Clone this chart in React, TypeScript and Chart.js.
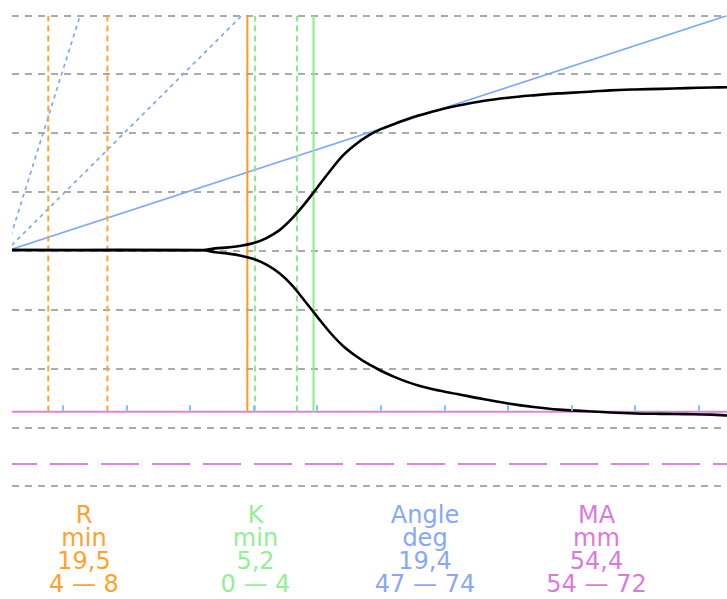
import React, { useEffect, useRef } from "react";
import { Chart, registerables } from "chart.js";

Chart.register(...registerables);

// ---- data (minutes / millimetres) ----
const TIME_MIN = [1, 16, 17, 18, 19, 20, 21, 22, 23, 24, 25, 26, 27, 28, 29, 30, 31, 32, 33, 34, 35, 36, 38, 40, 42, 44, 46, 48, 50, 52, 54, 56, 57.2];
const UPPER_MM = [0.17, 0.17, 0.45, 0.62, 0.88, 1.35, 2.2, 3.5, 5.5, 8.0, 10.8, 13.6, 16.2, 18.1, 19.6, 20.7, 21.55, 22.35, 23.05, 23.65, 24.2, 24.67, 25.49, 26.05, 26.45, 26.78, 27.02, 27.3, 27.45, 27.55, 27.68, 27.77, 27.82];
const LOWER_MM = [0.17, 0.12, -0.22, -0.45, -0.8, -1.36, -2.3, -3.75, -5.8, -8.45, -11.2, -13.85, -16.1, -17.8, -19.2, -20.35, -21.35, -22.2, -22.9, -23.45, -23.9, -24.3, -25.15, -25.9, -26.5, -26.95, -27.2, -27.44, -27.6, -27.67, -27.72, -27.8, -27.95];

const X_MIN = 1;
const X_MAX = 57.2;
const Y_MIN = -40;
const Y_MAX = 40;
const Y_STEP = 10;

const ANGLE_ORIGIN = { x: 0.53, y: 0 };
const ANGLE_END = { x: 57.2, y: 40 };
const ANGLE_NORMAL_ENDS = [{ x: 6.35, y: 40 }, { x: 19.06, y: 40 }];

const R_VALUE = 19.5;
const R_RANGE = [3.85, 8.5];
const RK_VALUE = 24.7;
const K_RANGE = [20.1, 23.4];

const MA_LINE_MM = -27.3;
const MA_DASH_MM = -36.2;
const TICK_MINUTES = [5, 10, 15, 20, 25, 30, 35, 40, 45, 50, 55];

const PARAM_NAMES = ["R", "K", "Angle", "MA"];
const PARAM_UNITS = ["min", "min", "deg", "mm"];
const PARAM_VALUES = ["19,5", "5,2", "19,4", "54,4"];
const PARAM_RANGES = ["4 — 8", "0 — 4", "47 — 74", "54 — 72"];
const PARAM_COLORS = ["#ffa22e", "#94ee94", "#86a8f6", "#dc7adc"];
const PARAM_CENTERS = [84, 255.5, 425, 596.5];

const ORANGE = "#ff9a1a";
const ORANGE_D = "#ffa630";
const GREEN = "#86ef86";
const BLUE = "#7ea8fb";
const PURPLE = "#dc82e2";
const TICK_BLUE = "#7cc6f2";

function vline(t: number, color: string, dash: number[], order: number) {
  return {
    data: [{ x: t, y: Y_MAX }, { x: t, y: MA_LINE_MM }],
    borderColor: color,
    borderWidth: 2,
    borderDash: dash,
    showLine: true,
    pointRadius: 0,
    tension: 0,
    order,
  };
}

function hline(v: number, color: string, dash: number[], order: number) {
  return {
    data: [{ x: X_MIN, y: v }, { x: X_MAX, y: v }],
    borderColor: color,
    borderWidth: 2,
    borderDash: dash,
    borderDashOffset: 13,
    showLine: true,
    pointRadius: 0,
    tension: 0,
    order,
  };
}

const tickPlugin = {
  id: "maTicks",
  afterDatasetsDraw(chart: any) {
    const { ctx, scales } = chart;
    const x = scales.x;
    const y = scales.y;
    const y0 = y.getPixelForValue(MA_LINE_MM);
    ctx.save();
    ctx.strokeStyle = TICK_BLUE;
    ctx.lineWidth = 2;
    for (const t of TICK_MINUTES) {
      const px = Math.round(x.getPixelForValue(t));
      ctx.beginPath();
      ctx.moveTo(px, y0 - 1);
      ctx.lineTo(px, y0 - 6.5);
      ctx.stroke();
    }
    ctx.restore();
  },
};

export default function App() {
  const ref = useRef<HTMLCanvasElement | null>(null);

  useEffect(() => {
    if (!ref.current) return;
    const upper = TIME_MIN.map((t, i) => ({ x: t, y: UPPER_MM[i] }));
    const lower = TIME_MIN.map((t, i) => ({ x: t, y: LOWER_MM[i] }));
    const curve = (data: any) => ({
      data,
      borderColor: "#000",
      borderWidth: 2.6,
      showLine: true,
      pointRadius: 0,
      tension: 0.35,
      order: 0,
    });
    const chart = new Chart(ref.current, {
      type: "scatter",
      data: {
        datasets: [
          curve(upper),
          curve(lower),
          {
            data: [ANGLE_ORIGIN, ANGLE_END],
            borderColor: BLUE,
            borderWidth: 1.6,
            showLine: true,
            pointRadius: 0,
            tension: 0,
            order: 3,
          },
          ...ANGLE_NORMAL_ENDS.map((e) => ({
            data: [ANGLE_ORIGIN, e],
            borderColor: BLUE,
            borderWidth: 1.7,
            borderDash: [4, 4],
            showLine: true,
            pointRadius: 0,
            tension: 0,
            order: 3,
          })),
          ...R_RANGE.map((t) => vline(t, ORANGE_D, [6, 4], 2)),
          vline(R_VALUE, ORANGE, [], 1),
          ...K_RANGE.map((t) => vline(t, GREEN, [6, 4], 2)),
          vline(RK_VALUE, GREEN, [], 1),
          hline(MA_LINE_MM, PURPLE, [], 2),
          hline(MA_DASH_MM, PURPLE, [38, 13], 2),
        ] as any,
      },
      options: {
        animation: false,
        responsive: false,
        devicePixelRatio: 1,
        layout: { padding: { left: 12, right: 0, top: 15.6, bottom: 13.6 } },
        plugins: { legend: { display: false }, tooltip: { enabled: false } },
        scales: {
          x: { type: "linear", min: X_MIN, max: X_MAX, display: false },
          y: {
            type: "linear",
            min: Y_MIN,
            max: Y_MAX,
            ticks: { display: false, stepSize: Y_STEP },
            grid: { color: "#ababab", lineWidth: 2, drawTicks: false },
            border: { display: false, dash: [7, 6] },
          },
        },
      } as any,
      plugins: [tickPlugin],
    });
    return () => chart.destroy();
  }, []);

  return (
    <div style={{ position: "absolute", left: 0, top: 0, width: 727, height: 599, background: "#fff", overflow: "hidden" }}>
      <canvas ref={ref} width={727} height={500} style={{ position: "absolute", left: 0, top: 0, width: 727, height: 500 }} />
      {PARAM_NAMES.map((name, i) => (
        <div
          key={name}
          style={{
            position: "absolute",
            left: PARAM_CENTERS[i] - 100,
            top: 504,
            width: 200,
            textAlign: "center",
            fontFamily: "'DejaVu Sans', Verdana, sans-serif",
            fontSize: 24,
            lineHeight: "22.9px",
            color: PARAM_COLORS[i],
          }}
        >
          <div>{name}</div>
          <div>{PARAM_UNITS[i]}</div>
          <div>{PARAM_VALUES[i]}</div>
          <div>{PARAM_RANGES[i]}</div>
        </div>
      ))}
    </div>
  );
}
